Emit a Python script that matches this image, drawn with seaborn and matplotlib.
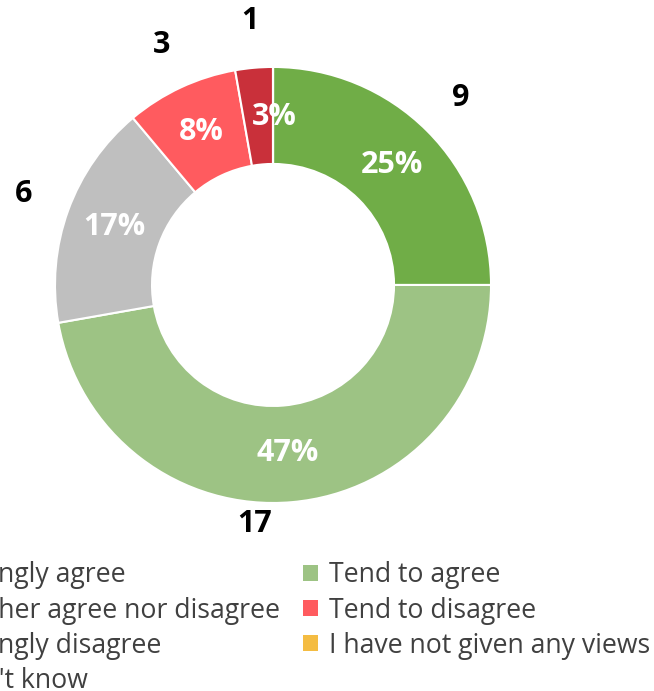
import numpy as np
import matplotlib
matplotlib.use('Agg')
import matplotlib.pyplot as plt
from matplotlib.patches import Patch
import seaborn as sns

# survey answers, in clockwise order from 12 o'clock
categories = ['Strongly agree', 'Tend to agree', 'Neither agree nor disagree',
              'Tend to disagree', 'Strongly disagree',
              'I have not given any views', "Don't know"]
counts = [9, 17, 6, 3, 1, 0, 0]
hex_colors = ['#70AD47', '#9DC384', '#BFBFBF', '#FF5B5F', '#C9303A',
              '#F4BC42', '#5B9BD5']

sns.set_theme(style='white')
plt.rcParams['font.family'] = ['Open Sans', 'DejaVu Sans']
palette = sns.color_palette(hex_colors)


def pct_fmt(p):
    return '' if p < 0.5 else f'{p:.0f}%'


count_labels = [str(c) if c > 0 else '' for c in counts]

fig = plt.figure(figsize=(6.54, 6.91), dpi=100)
ax = fig.add_axes([0.0841, 0.2721, 0.6667, 0.6310])

wedges, texts, autotexts = ax.pie(
    counts, colors=palette, startangle=90, counterclock=False,
    labels=count_labels, labeldistance=1.215,
    autopct=pct_fmt, pctdistance=0.775,
    wedgeprops=dict(width=0.445, edgecolor='white', linewidth=1.5),
)
ax.set_xlim(-1, 1)
ax.set_ylim(-1, 1)

for t in texts:
    t.set_ha('center')
    t.set_va('center')
    t.set_fontsize(22)
    t.set_fontweight('bold')
    t.set_color('black')
for t in autotexts:
    t.set_ha('center')
    t.set_va('center')
    t.set_fontsize(22)
    t.set_fontweight('bold')
    t.set_color('white')

# biggest slice: its count label sits closer to the ring
big = int(np.argmax(counts))
ang = np.deg2rad((wedges[big].theta1 + wedges[big].theta2) / 2)
texts[big].set_position((1.1 * np.cos(ang) - 0.18, 1.1 * np.sin(ang)))
# small slice label nudged right like the original
autotexts[4].set_x(autotexts[4].get_position()[0] + 0.075)

# legend fills column-wise, so reorder to get the row layout
order = [0, 2, 4, 6, 1, 3, 5]
handles = [Patch(facecolor=palette[i], edgecolor='none') for i in order]
labels = [categories[i] for i in order]
fig.legend(handles, labels, loc='upper left', bbox_to_anchor=(-0.1205, 0.1875),
           ncol=2, frameon=False, fontsize=19.2, labelcolor='#404040',
           handlelength=0.54, handleheight=0.54, handletextpad=0.44,
           columnspacing=0.86, labelspacing=0.27, borderpad=0, borderaxespad=0)

fig.savefig('out.png', dpi=100)
